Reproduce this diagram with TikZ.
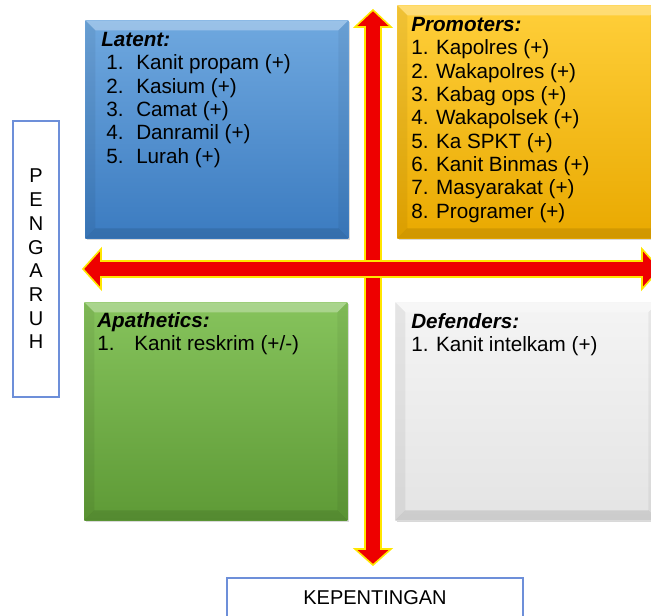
\documentclass[tikz,border=0pt]{standalone}
\usepackage{fontspec}
\setmainfont{Liberation Sans}
\usetikzlibrary{shadows}

\definecolor{biruAtas}{HTML}{6FA8DF}
\definecolor{biruBawah}{HTML}{3B7BC0}
\definecolor{kuningAtas}{HTML}{FFCF3A}
\definecolor{kuningBawah}{HTML}{E9A900}
\definecolor{hijauAtas}{HTML}{86C35C}
\definecolor{hijauBawah}{HTML}{5E9A36}
\definecolor{abuAtas}{HTML}{F4F4F4}
\definecolor{abuBawah}{HTML}{E4E4E4}
\definecolor{merah}{HTML}{EE0000}
\definecolor{kuningGaris}{HTML}{FFE600}
\definecolor{garisSumbu}{HTML}{6D8FD9}

\newcommand{\nomor}[2]{\makebox[#1][l]{#2}}

\begin{document}
\begin{tikzpicture}[
  x=0.75pt, y=-0.75pt,
  kuadran/.style={anchor=north west, inner sep=0, minimum width=197.25pt,
                  minimum height=163.5pt,
                  drop shadow={shadow xshift=1.5pt, shadow yshift=-1.5pt, opacity=.3},
                  path picture={
                    \path (path picture bounding box.north west) coordinate (nw)
                          (path picture bounding box.north east) coordinate (ne)
                          (path picture bounding box.south west) coordinate (sw)
                          (path picture bounding box.south east) coordinate (se)
                          ([shift={(7.5pt,-7.5pt)}]nw) coordinate (inw)
                          ([shift={(-7.5pt,-7.5pt)}]ne) coordinate (ine)
                          ([shift={(7.5pt,7.5pt)}]sw) coordinate (isw)
                          ([shift={(-7.5pt,7.5pt)}]se) coordinate (ise);
                    \fill[white, opacity=.3] (nw) -- (ne) -- (ine) -- (inw) -- cycle;
                    \fill[black, opacity=.06] (nw) -- (inw) -- (isw) -- (sw) -- cycle;
                    \fill[black, opacity=.05] (ne) -- (se) -- (ise) -- (ine) -- cycle;
                    \fill[black, opacity=.10] (sw) -- (isw) -- (ise) -- (se) -- cycle;
                  }},
  isi/.style={anchor=north west, inner sep=0, align=left,
              font=\fontsize{15.5}{17.5}\selectfont},
  sumbu/.style={draw=garisSumbu, line width=1.1pt, fill=white, inner sep=0,
                font=\fontsize{15}{17.8}\selectfont},
  panah/.style={fill=merah, draw=kuningGaris, line width=1.2pt, line join=miter}
]
  \useasboundingbox (0,0) rectangle (651,616);
  \clip (0,0) rectangle (651,616);

  % kuadran
  \node[kuadran, top color=biruAtas, bottom color=biruBawah] (latent) at (85,20) {};
  \node[kuadran, top color=kuningAtas, bottom color=kuningBawah,
        minimum height=174.75pt] (promoters) at (397,5) {};
  \node[kuadran, top color=hijauAtas, bottom color=hijauBawah] (apathetics) at (84,302) {};
  \node[kuadran, top color=abuAtas, bottom color=abuBawah] (defenders) at (395,302) {};

  % isi kuadran
  \node[isi] (latentIsi) at (101,32) {\textbf{\textit{Latent:}}\\
    \hspace*{3.75pt}\nomor{22.5pt}{1.}Kanit propam (+)\\
    \hspace*{3.75pt}\nomor{22.5pt}{2.}Kasium (+)\\
    \hspace*{3.75pt}\nomor{22.5pt}{3.}Camat (+)\\
    \hspace*{3.75pt}\nomor{22.5pt}{4.}Danramil (+)\\
    \hspace*{3.75pt}\nomor{22.5pt}{5.}Lurah (+)};
  \node[isi] (promotersIsi) at (411,17) {\textbf{\textit{Promoters:}}\\
    1. Kapolres (+)\\
    2. Wakapolres (+)\\
    3. Kabag ops (+)\\
    4. Wakapolsek (+)\\
    5. Ka SPKT (+)\\
    6. Kanit Binmas (+)\\
    7. Masyarakat (+)\\
    8. Programer (+)};
  \node[isi] (apatheticsIsi) at (97,312) {\textbf{\textit{Apathetics:}}\\
    \nomor{27.75pt}{1.}Kanit reskrim (+/-)};
  \node[isi] (defendersIsi) at (411,313) {\textbf{\textit{Defenders:}}\\
    1. Kanit intelkam (+)};

  % panah sumbu
  \filldraw[panah] (373,10) -- (391,27) -- (381,27) -- (381,549) -- (391,549)
    -- (373,565) -- (355,549) -- (365,549) -- (365,27) -- (355,27) -- cycle;
  \filldraw[panah] (83,269) -- (101,249) -- (101,261) -- (642,261) -- (642,249)
    -- (660,269) -- (642,289) -- (642,277) -- (101,277) -- (101,289) -- cycle;

  % label sumbu
  \node[sumbu, minimum width=34.5pt, minimum height=207pt, align=center]
    (pengaruh) at (36,259) {P\\E\\N\\G\\A\\R\\U\\H};
  \node[sumbu, minimum width=222pt, text height=20.25pt, text depth=26pt,
        anchor=base] (kepentingan) at (375,605) {KEPENTINGAN};
\end{tikzpicture}
\end{document}
